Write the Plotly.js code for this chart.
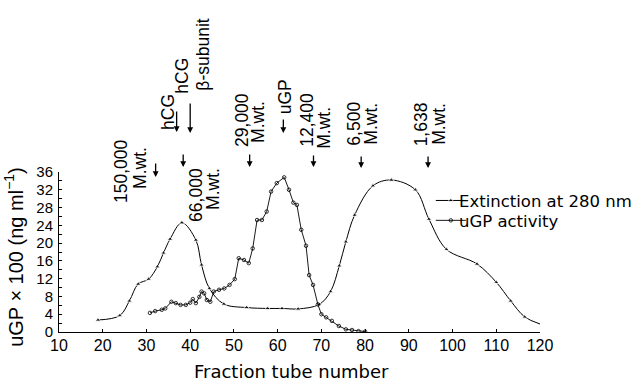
<!DOCTYPE html>
<html><head><meta charset="utf-8">
<script src="https://cdn.plot.ly/plotly-3.0.1.min.js"></script>
<style>html,body{margin:0;padding:0;background:#fff}#chart{width:644px;height:383px}</style>
</head><body><div id="chart"></div>
<script>
// ---- data ----
const extFraction = [18.9, 23.9, 26.1, 28.1, 30.5, 32.5, 33.9, 35.4, 38.1, 41.3, 42.6, 44.4, 47.7, 52.9, 57.7, 61.0, 64.7, 69.5, 72.1, 74.1, 75.6, 77.6, 81.8, 86.0, 91.5, 94.6, 98.6, 105.6, 110.0, 113.3, 116.5, 120.0];
const extValue    = [2.7, 3.7, 7.0, 10.8, 11.9, 14.7, 17.8, 20.9, 24.6, 20.7, 15.1, 9.8, 6.3, 5.5, 5.3, 5.3, 5.2, 6.2, 9.1, 14.9, 20.3, 26.3, 32.9, 34.2, 32.0, 25.4, 18.6, 15.3, 11.2, 7.0, 3.4, 1.8];
const ugpFraction = [30.8, 32.0, 33.5, 34.3, 35.7, 36.7, 37.8, 39.0, 40.0, 40.6, 41.3, 42.1, 42.6, 43.2, 43.8, 44.6, 45.4, 46.6, 47.8, 49.0, 50.2, 51.1, 52.3, 53.4, 54.3, 55.3, 56.4, 57.5, 58.5, 59.8, 61.5, 62.6, 63.6, 64.4, 65.4, 66.5, 67.2, 68.1, 69.2, 70.0, 71.1, 72.4, 74.0, 75.6, 77.0, 78.5, 80.0];
const ugpValue    = [4.3, 4.7, 5.0, 5.3, 6.8, 6.5, 6.1, 6.1, 6.6, 7.4, 6.5, 7.9, 9.1, 8.7, 7.2, 6.8, 9.1, 9.5, 9.8, 10.6, 11.9, 16.6, 16.2, 15.5, 18.8, 25.2, 25.2, 27.1, 31.6, 33.5, 34.8, 32.0, 29.1, 28.6, 23.0, 19.4, 12.8, 10.6, 6.2, 4.0, 3.3, 2.5, 1.35, 0.6, 0.45, 0.2, 0.1];
const xTicks = [10, 20, 30, 40, 50, 60, 70, 80, 90, 100, 110, 120];
const yTicks = [0, 4, 8, 12, 16, 20, 24, 28, 32, 36];
const seriesNames = ['Extinction at 280 nm', 'uGP activity'];
const markerLabels = [['150,000', 'M.wt.'], ['hCG'], ['66,000', 'M.wt.'], ['hCG', 'β-subunit'], ['29,000', 'M.wt.'], ['uGP'], ['12,400', 'M.wt.'], ['6,500', 'M.wt.'], ['1,638', 'M.wt.']];
const markerFractions = [32.1, 36.9, 38.4, 40.0, 53.6, 61.3, 68.2, 79.1, 94.4];

// ---- placement of the marker labels (layout only): arrow tip (paper y), arrow length (px),
//      and for every text line: x offset from the arrow (px), paper y, y anchor ----
const place = [
  {tip: 0.96875, len: 15, lines: [[-34.7, 1.00625, 'middle'], [-15.7, 1.025, 'middle']]},
  {tip: 1.25,    len: 22, lines: [[-8.7, 1.375, 'middle']]},
  {tip: 1.03125, len: 14, lines: [[12.7, 0.85625, 'middle'], [29.2, 0.896875, 'middle']]},
  {tip: 1.24375, len: 31, lines: [[-9, 1.603125, 'middle'], [12.5, 1.49375, 'bottom']]},
  {tip: 1.03125, len: 14, lines: [[-8.2, 1.328125, 'middle'], [7.8, 1.315625, 'middle']]},
  {tip: 1.24375, len: 15, lines: [[1.5, 1.471875, 'middle']]},
  {tip: 1.03125, len: 13, lines: [[-6.7, 1.325, 'middle'], [9.8, 1.278125, 'middle']]},
  {tip: 1.025,   len: 13, lines: [[-7.5, 1.3, 'middle'], [9.5, 1.3, 'middle']]},
  {tip: 1.025,   len: 13, lines: [[-6.7, 1.3, 'middle'], [10.8, 1.3, 'middle']]}
];

const labelFont = () => ({family: 'Liberation Sans, Arial, sans-serif', size: 17.5, color: '#000'});
const annotations = [];
markerFractions.forEach((fx, i) => {
  const p = place[i];
  annotations.push({
    x: fx, xref: 'x', y: p.tip, yref: 'paper', text: '', showarrow: true,
    ax: 0, ay: -p.len, arrowhead: 2, arrowsize: 0.9, arrowwidth: 1.3, arrowcolor: '#000'
  });
  markerLabels[i].forEach((line, j) => {
    const [dx, py, yan] = p.lines[j];
    annotations.push({
      x: fx, xref: 'x', y: py, yref: 'paper', text: line, showarrow: false,
      textangle: -90, xanchor: 'center', yanchor: yan, xshift: dx,
      font: labelFont()
    });
  });
});
// axis titles
annotations.push({
  text: 'Fraction tube number', xref: 'paper', yref: 'paper', x: 0.484, y: -0.244,
  xanchor: 'center', yanchor: 'middle', showarrow: false,
  font: {family: 'DejaVu Sans, sans-serif', size: 18, color: '#000'}
});
annotations.push({
  text: 'uGP × 100 (ng ml<sup>−1</sup>)', xref: 'paper', yref: 'paper', x: -0.0935, y: 0.47,
  xanchor: 'center', yanchor: 'middle', showarrow: false, textangle: -90,
  font: {family: 'Liberation Sans, Arial, sans-serif', size: 20, color: '#000'}
});
// legend texts (symbols come from the plotly legend)
const legendTextY = [0.81875, 0.69375];
seriesNames.forEach((nm, i) => {
  annotations.push({
    text: nm, xref: 'paper', yref: 'paper', x: 0.8295, y: legendTextY[i],
    xanchor: 'left', yanchor: 'middle', showarrow: false, borderpad: 0,
    font: {family: 'DejaVu Sans, sans-serif', size: 16.5, color: '#000'}
  });
});

const traces = [
  {
    x: extFraction, y: extValue, name: '', type: 'scatter', mode: 'lines+markers',
    line: {color: '#000', width: 1, shape: 'spline', smoothing: 1},
    marker: {symbol: 'triangle-up', color: '#000', size: extFraction.map((v, i) => i === extFraction.length - 1 ? 0 : 5)}
  },
  {
    x: ugpFraction, y: ugpValue, name: '', type: 'scatter', mode: 'lines+markers',
    line: {color: '#000', width: 0.9},
    marker: {symbol: 'circle-open', color: '#000', size: 3.5, line: {width: 0.8, color: '#000'}}
  }
];

const layout = {
  width: 644, height: 383,
  margin: {l: 59, r: 104, t: 172, b: 51},
  paper_bgcolor: '#fff', plot_bgcolor: '#fff',
  showlegend: true,
  legend: {
    x: 0.773, y: 0.9156, xanchor: 'left', yanchor: 'top', bgcolor: 'rgba(0,0,0,0)',
    font: {family: 'DejaVu Sans, sans-serif', size: 13, color: '#000'}, itemwidth: 30
  },
  xaxis: {
    range: [10, 120], tickvals: xTicks, ticktext: xTicks.map(String),
    showgrid: false, zeroline: false, showline: true, linecolor: '#000', linewidth: 1,
    ticks: 'inside', ticklen: 3, tickcolor: '#000', ticklabelstandoff: -1,
    tickfont: {family: 'Liberation Sans, Arial, sans-serif', size: 16, color: '#000'}
  },
  yaxis: {
    range: [0, 36], tickvals: yTicks, ticktext: yTicks.map(String),
    showgrid: false, zeroline: false, showline: true, linecolor: '#000', linewidth: 1,
    ticks: 'inside', ticklen: 3, tickcolor: '#000', ticklabelstandoff: 2,
    minor: {dtick: 2, ticks: 'inside', ticklen: 3, tickcolor: '#000', showgrid: false},
    tickfont: {family: 'Liberation Sans, Arial, sans-serif', size: 15, color: '#000'}
  },
  annotations: annotations
};

Plotly.newPlot('chart', traces, layout, {staticPlot: true, displayModeBar: false});
</script>
</body></html>
